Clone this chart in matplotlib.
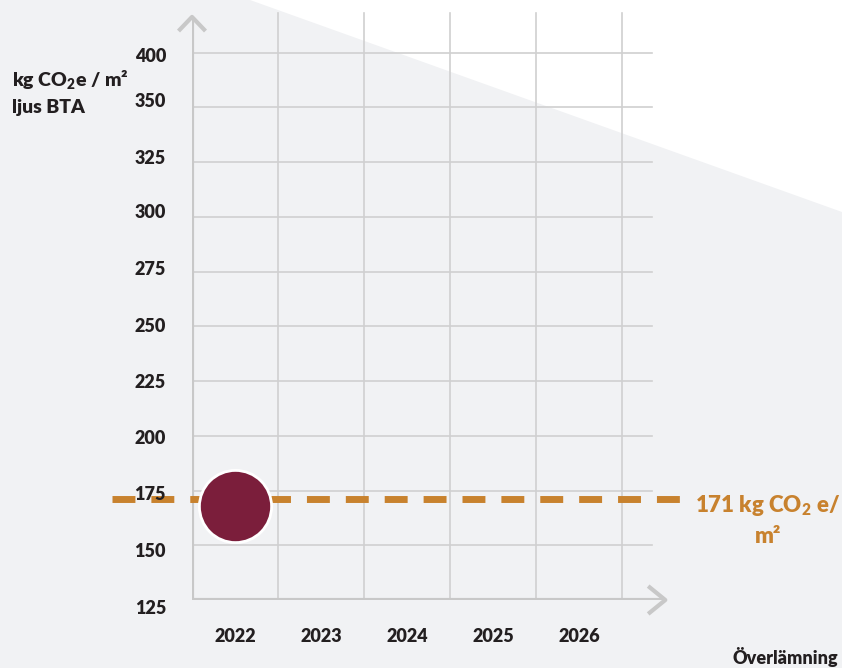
import numpy as np
import matplotlib
matplotlib.use("Agg")
import matplotlib.pyplot as plt
from matplotlib.patches import Polygon

plt.rcParams['font.family'] = ['Lato', 'DejaVu Sans']
plt.rcParams['font.weight'] = 'heavy'
plt.rcParams['mathtext.fontset'] = 'custom'
plt.rcParams['mathtext.rm'] = 'Lato:heavy'
plt.rcParams['mathtext.bf'] = 'Lato:heavy'

# data
years = ['2022', '2023', '2024', '2025', '2026']
y_labels = ['125', '150', '175', '200', '225', '250', '275', '300', '325', '350', '400']
y_values = [125, 150, 175, 200, 225, 250, 275, 300, 325, 350, 400]
point_year = '2022'
point_value = 168
target_value = 171

dark = '#231F20'
grey = '#C8C8C8'
orange = '#C8822E'
wine = '#7B1E3B'
W = 'heavy'
# the original's y labels sit a little off their gridlines (pixels, + = down)
label_nudge = [9, 6, 4, 3, 1, 0, -2, -4, -4, -6, 4]

fig = plt.figure(figsize=(8.42, 6.68), dpi=100, facecolor='#F1F2F4')
# white wedge in the top right corner
fig.patches.append(Polygon([(250 / 842, 1), (1, 1), (1, 1 - 212 / 668)],
                           closed=True, transform=fig.transFigure,
                           facecolor='white', edgecolor='none', zorder=-1))

ax = fig.add_axes([192 / 842, 68 / 668, (667 - 192) / 842, (656 - 68) / 668])
ax.set_zorder(1)
ax.set_facecolor('none')
ax.set_xlim(-0.5, 5.02)
ax.set_ylim(0, 10.74)
for s in ax.spines.values():
    s.set_visible(False)

pos = np.arange(len(y_values))

def ypos(v):
    return np.interp(v, y_values, pos)

# grid
for p in pos[1:]:
    ax.plot([-0.5, 4.85], [p, p], color='#D0D0D0', lw=1.2, zorder=1)
for i in range(len(years)):
    ax.plot([i + 0.5, i + 0.5], [0, 10.72], color='#D0D0D0', lw=1.2, zorder=1)

# axes with arrows
ax.plot([-0.5, -0.5], [0, 10.65], color=grey, lw=3, zorder=2, solid_capstyle='butt')
ax.plot([-0.5, 5.0], [0, 0], color=grey, lw=3, zorder=2, solid_capstyle='butt')
ax.plot([-0.5 - 0.14, -0.5, -0.5 + 0.14], [10.42, 10.65, 10.42], color=grey, lw=3, zorder=2,
        clip_on=False)
ax.plot([4.82, 5.0, 4.82], [0.23, 0, -0.23], color=grey, lw=3, zorder=2, clip_on=False)

# target line
ty = ypos(target_value)
ax.plot([-1.43, 5.24], [ty, ty], color=orange, lw=5, dashes=(3.3, 2.3),
        solid_capstyle='butt', dash_capstyle='butt', clip_on=False, zorder=3)
ax.text(6.19, ty - 0.12, '171 kg CO$_\\mathregular{2}$ e/', color=orange, fontsize=16,
        fontweight=W, ha='center', va='center', clip_on=False)
ax.text(6.19, ty - 0.68, 'm²', color=orange, fontsize=16,
        fontweight=W, ha='center', va='center', clip_on=False)

# point
ax.scatter([years.index(point_year)], [ypos(point_value)], s=2700, color=wine,
           edgecolor='white', linewidth=2, zorder=4, clip_on=False)

# y labels
ax.set_yticks([])
for p, lab, dy in zip(pos, y_labels, label_nudge):
    ax.annotate(lab, xy=(-0.5, p), xytext=(-26, -dy), textcoords='offset pixels',
                ha='right', va='center', fontsize=13, color=dark, fontweight=W,
                annotation_clip=False)

ax.set_xticks(range(len(years)), years)
ax.tick_params(axis='x', length=0, labelsize=13, labelcolor=dark, pad=20)
for lab in ax.get_xticklabels():
    lab.set_fontweight(W)

fig.text(12 / 842, 1 - 80 / 668, 'kg CO$_\\mathregular{2}$e / m²', color=dark, fontsize=14,
         fontweight=W, ha='left', va='center')
fig.text(12 / 842, 1 - 108 / 668, 'ljus BTA', color=dark, fontsize=14,
         fontweight=W, ha='left', va='center')
fig.text(838 / 842, 1 - 657 / 668, 'Överlämning', color=dark, fontsize=13,
         fontweight=W, ha='right', va='center')

fig.savefig('out.png', dpi=100, facecolor=fig.get_facecolor())
